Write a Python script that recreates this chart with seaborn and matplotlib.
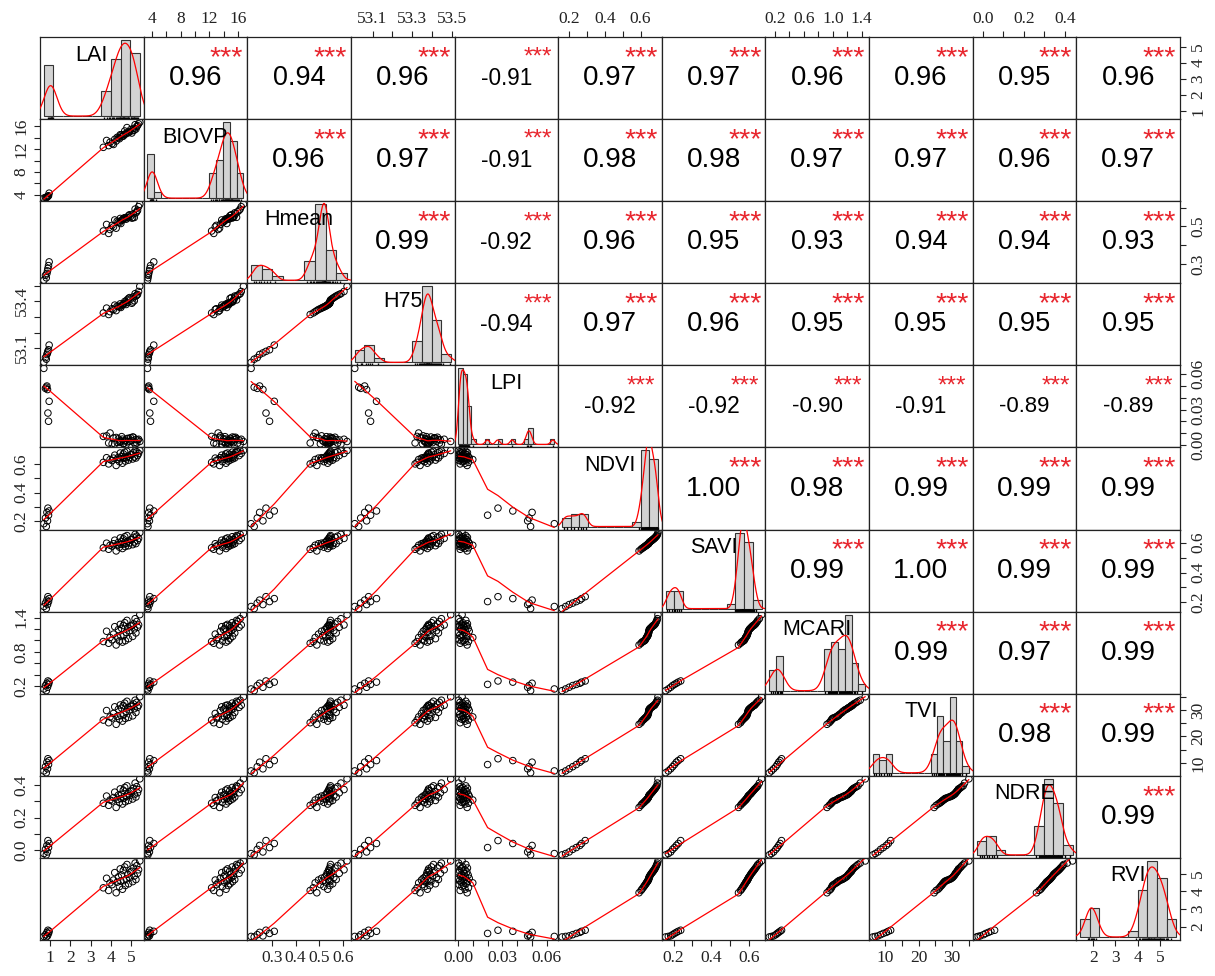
import numpy as np
import pandas as pd
import matplotlib
matplotlib.use("Agg")
import matplotlib.pyplot as plt
import seaborn as sns

sns.set_theme(style="white")
plt.rcParams['font.family'] = ['Liberation Sans', 'DejaVu Sans']

variables = ["LAI", "BIOVP", "Hmean", "H75", "LPI", "NDVI", "SAVI", "MCARI", "TVI", "NDRE", "RVI"]

# ---- observations (8 sparse plots followed by 35 dense plots) ----
LAI = [0.82, 0.70, 0.88, 0.78, 0.93, 0.85, 0.96, 0.90,
       4.25, 3.88, 4.56, 3.62, 4.41, 4.70, 4.05, 4.86, 3.95, 4.30, 5.06, 4.48, 4.63, 4.12, 5.22, 4.74,
       3.78, 4.91, 4.36, 5.14, 4.52, 4.82, 5.30, 4.18, 4.96, 5.02, 4.60, 5.35, 4.45, 5.10, 4.67, 5.26,
       4.78, 5.18, 5.41]
BIOVP = [3.50, 3.43, 3.70, 3.55, 3.85, 3.60, 4.30, 3.75,
         13.4, 12.6, 14.3, 12.3, 13.8, 14.6, 12.95, 14.85, 13.2, 14.05, 15.2, 14.4, 14.55, 12.8, 15.5, 14.7,
         13.5, 15.05, 13.95, 15.3, 14.15, 14.95, 16.1, 13.7, 15.4, 14.8, 14.25, 16.4, 14.5, 15.6, 15.15, 15.9,
         15.75, 16.25, 16.7]
Hmean = [0.225, 0.212, 0.262, 0.238, 0.290, 0.248, 0.310, 0.275,
         0.490, 0.462, 0.536, 0.475, 0.520, 0.545, 0.505, 0.557, 0.483, 0.528, 0.546, 0.515, 0.543, 0.497,
         0.572, 0.538, 0.510, 0.562, 0.524, 0.547, 0.531, 0.545, 0.585, 0.534, 0.553, 0.544, 0.540, 0.605,
         0.542, 0.567, 0.546, 0.578, 0.548, 0.592, 0.618]
H75 = [53.03, 53.01, 53.07, 53.04, 53.09, 53.06, 53.12, 53.08,
       53.340, 53.315, 53.377, 53.325, 53.363, 53.389, 53.352, 53.418, 53.333, 53.369, 53.395, 53.360,
       53.385, 53.347, 53.433, 53.379, 53.356, 53.423, 53.366, 53.403, 53.372, 53.392, 53.443, 53.375,
       53.413, 53.387, 53.381, 53.462, 53.383, 53.428, 53.398, 53.438, 53.408, 53.448, 53.495]
LPI = [0.049, 0.065, 0.047, 0.048, 0.020, 0.050, 0.037, 0.027,
       0.0062, 0.0015, 0.0048, 0.0071, 0.0027, 0.0039, 0.0008, 0.0055, 0.0100, 0.0021, 0.0066, 0.0034,
       0.0012, 0.0058, 0.0044, 0.0003, 0.0076, 0.0030, 0.0051, 0.0018, 0.0069, 0.0025, 0.0041, 0.0006,
       0.0060, 0.0036, 0.0010, 0.0047, 0.0022, 0.0064, 0.0032, 0.0014, 0.0053, 0.0005, 0.0028]
NDVI = [0.16, 0.18, 0.20, 0.22, 0.24, 0.26, 0.27, 0.29,
        0.592, 0.603, 0.608, 0.614, 0.619, 0.623, 0.627, 0.630, 0.634, 0.636, 0.638, 0.640, 0.642, 0.644,
        0.645, 0.646, 0.647, 0.648, 0.649, 0.652, 0.655, 0.658, 0.662, 0.665, 0.668, 0.671, 0.674, 0.677,
        0.680, 0.683, 0.686, 0.689, 0.692, 0.695, 0.698]
SAVI = [0.158, 0.172, 0.185, 0.195, 0.205, 0.215, 0.225, 0.238,
        0.545, 0.556, 0.561, 0.566, 0.570, 0.574, 0.577, 0.580, 0.583, 0.585, 0.587, 0.589, 0.591, 0.593,
        0.594, 0.596, 0.597, 0.599, 0.602, 0.605, 0.608, 0.611, 0.614, 0.617, 0.620, 0.623, 0.626, 0.629,
        0.632, 0.636, 0.640, 0.644, 0.648, 0.656, 0.668]
MCARI = [0.12, 0.15, 0.18, 0.21, 0.23, 0.25, 0.27, 0.29,
         0.92, 0.95, 0.97, 0.98, 0.99, 0.995, 1.01, 1.03, 1.05, 1.06, 1.07, 1.08, 1.09, 1.11, 1.13, 1.14,
         1.16, 1.17, 1.19, 1.20, 1.21, 1.22, 1.23, 1.24, 1.25, 1.26, 1.26, 1.27, 1.28, 1.29, 1.31, 1.33,
         1.35, 1.38, 1.45]
TVI = [6.3, 7.0, 7.8, 8.6, 9.4, 10.3, 10.9, 11.6,
       24.6, 25.2, 25.8, 26.2, 26.5, 26.8, 27.0, 27.2, 27.4, 27.6, 27.8, 27.9, 28.3, 28.7, 29.1, 29.5,
       29.8, 30.1, 30.3, 30.5, 30.7, 30.9, 31.0, 31.2, 31.4, 31.5, 31.7, 31.8, 31.9, 32.3, 32.6, 32.9,
       33.3, 33.7, 35.0]
NDRE = [-0.030, -0.022, -0.012, 0.004, 0.015, 0.028, 0.040, 0.058,
        0.262, 0.275, 0.283, 0.288, 0.293, 0.297, 0.302, 0.305, 0.308, 0.311, 0.314, 0.317, 0.320, 0.323,
        0.326, 0.329, 0.332, 0.335, 0.338, 0.341, 0.344, 0.347, 0.352, 0.356, 0.360, 0.364, 0.368, 0.372,
        0.376, 0.380, 0.385, 0.390, 0.395, 0.412, 0.438]
RVI = [1.42, 1.45, 1.48, 1.55, 1.62, 1.68, 1.74, 1.80,
       3.92, 4.05, 4.12, 4.20, 4.27, 4.33, 4.38, 4.43, 4.48, 4.52, 4.55, 4.58, 4.61, 4.64, 4.67, 4.70,
       4.74, 4.78, 4.82, 4.87, 4.92, 4.97, 5.02, 5.06, 5.10, 5.14, 5.18, 5.22, 5.27, 5.32, 5.38, 5.45,
       5.52, 5.60, 5.72]

# correlation coefficients shown in the upper panels (row i, columns i+1..)
cor_rows = [
    [0.96, 0.94, 0.96, -0.91, 0.97, 0.97, 0.96, 0.96, 0.95, 0.96],
    [0.96, 0.97, -0.91, 0.98, 0.98, 0.97, 0.97, 0.96, 0.97],
    [0.99, -0.92, 0.96, 0.95, 0.93, 0.94, 0.94, 0.93],
    [-0.94, 0.97, 0.96, 0.95, 0.95, 0.95, 0.95],
    [-0.92, -0.92, -0.90, -0.91, -0.89, -0.89],
    [1.00, 0.98, 0.99, 0.99, 0.99],
    [0.99, 1.00, 0.99, 0.99],
    [0.99, 0.97, 0.99],
    [0.98, 0.99],
    [0.99],
]
signif = "***"

# axis ticks and the labels R kept (horizontal axis / vertical axis)
tick_pos = {
    "LAI": [1, 2, 3, 4, 5], "BIOVP": [4, 6, 8, 10, 12, 14, 16], "Hmean": [0.3, 0.4, 0.5, 0.6],
    "H75": [53.1, 53.2, 53.3, 53.4, 53.5], "LPI": [0.0, 0.01, 0.02, 0.03, 0.04, 0.05, 0.06],
    "NDVI": [0.2, 0.3, 0.4, 0.5, 0.6], "SAVI": [0.2, 0.3, 0.4, 0.5, 0.6],
    "MCARI": [0.2, 0.4, 0.6, 0.8, 1.0, 1.2, 1.4], "TVI": [10, 15, 20, 25, 30, 35],
    "NDRE": [0.0, 0.1, 0.2, 0.3, 0.4], "RVI": [2, 3, 4, 5],
}
h_labels = {
    "LAI": ["1", "2", "3", "4", "5"], "BIOVP": ["4", "", "8", "", "12", "", "16"],
    "Hmean": ["0.3", "0.4", "0.5", "0.6"], "H75": ["53.1", "", "53.3", "", "53.5"],
    "LPI": ["0.00", "", "", "0.03", "", "", "0.06"], "NDVI": ["0.2", "", "0.4", "", "0.6"],
    "SAVI": ["0.2", "", "0.4", "", "0.6"], "MCARI": ["0.2", "", "0.6", "", "1.0", "", "1.4"],
    "TVI": ["10", "", "20", "", "30", ""], "NDRE": ["0.0", "", "0.2", "", "0.4"],
    "RVI": ["2", "3", "4", "5"],
}
v_labels = {
    "LAI": ["1", "2", "3", "4", "5"], "BIOVP": ["4", "", "8", "", "12", "", "16"],
    "Hmean": ["0.3", "", "0.5", ""], "H75": ["53.1", "", "", "53.4", ""],
    "LPI": ["0.00", "", "", "0.03", "", "", "0.06"], "NDVI": ["0.2", "", "0.4", "", "0.6"],
    "SAVI": ["0.2", "", "0.4", "", "0.6"], "MCARI": ["0.2", "", "", "0.8", "", "", "1.4"],
    "TVI": ["10", "", "20", "", "30", ""], "NDRE": ["0.0", "", "0.2", "", "0.4"],
    "RVI": ["2", "3", "4", "5"],
}
# histogram breaks: (start, stop, width)
hist_breaks = {
    "LAI": (0.5, 5.5, 0.5), "BIOVP": (3, 17, 1), "Hmean": (0.2, 0.65, 0.05), "H75": (53.0, 53.5, 0.05),
    "LPI": (0.0, 0.066, 0.003), "NDVI": (0.15, 0.70, 0.05), "SAVI": (0.15, 0.70, 0.05),
    "MCARI": (0.1, 1.5, 0.1), "TVI": (6, 36, 2), "NDRE": (-0.05, 0.45, 0.05), "RVI": (1.0, 6.0, 0.5),
}

df = pd.DataFrame({"LAI": LAI, "BIOVP": BIOVP, "Hmean": Hmean, "H75": H75, "LPI": LPI, "NDVI": NDVI,
                   "SAVI": SAVI, "MCARI": MCARI, "TVI": TVI, "NDRE": NDRE, "RVI": RVI})


def lowess(x, y, f=2 / 3, iters=3):
    """Port of R's lowess (clowess) without the delta shortcut."""
    x = np.asarray(x, float)
    y = np.asarray(y, float)
    o = np.argsort(x, kind="mergesort")
    x, y = x[o], y[o]
    n = len(x)
    ns = max(2, min(n, int(f * n + 1e-7)))
    rw = np.ones(n)
    fit = np.zeros(n)
    rng = x[-1] - x[0]
    for it in range(iters + 1):
        for k in range(n):
            d = np.abs(x - x[k])
            h = np.sort(d)[ns - 1]
            w = np.zeros(n)
            inside = d <= 0.999 * h
            if h > 0:
                u = np.clip(d / h, 0, 1)
                w = np.where(inside, np.where(d <= 0.001 * h, 1.0, (1 - u ** 3) ** 3), 0.0)
            else:
                w = np.where(d == 0, 1.0, 0.0)
            if it > 0:
                w = w * rw
            a = w.sum()
            if a <= 0:
                fit[k] = y[k]
                continue
            w = w / a
            if h > 0:
                xm = (w * x).sum()
                c = (w * (x - xm) ** 2).sum()
                if np.sqrt(c) > 0.001 * rng:
                    b = (x[k] - xm) / c
                    w = w * (b * (x - xm) + 1.0)
            fit[k] = (w * y).sum()
        if it == iters:
            break
        res = y - fit
        cmad = 6 * np.median(np.abs(res))
        if cmad < 1e-7 * np.mean(np.abs(res)):
            break
        r = np.abs(res)
        rw = np.where(r <= 0.001 * cmad, 1.0, np.where(r <= 0.999 * cmad, (1 - (r / cmad) ** 2) ** 2, 0.0))
    return x, fit


def padded(v):
    lo, hi = float(np.min(v)), float(np.max(v))
    d = hi - lo
    return lo - 0.04 * d, hi + 0.04 * d


EM = {"0": 0.556, "1": 0.556, "2": 0.556, "3": 0.556, "4": 0.556, "5": 0.556, "6": 0.556,
      "7": 0.556, "8": 0.556, "9": 0.556, ".": 0.278, "-": 0.333}
K_PX = 55.2


def width_em(s):
    return sum(EM.get(c, 0.556) for c in s)


fig = plt.figure(figsize=(12.15, 9.76), dpi=100)
fig.patch.set_facecolor("white")
L, R, T, B = 40 / 1215, 1180 / 1215, 1 - 37 / 976, 1 - 940 / 976
n = len(variables)
cw = (R - L) / n
ch = (T - B) / n
SERIF = "Liberation Serif"

for i in range(n):
    for j in range(n):
        xv, yv = variables[j], variables[i]
        ax = fig.add_axes([L + j * cw, T - (i + 1) * ch, cw, ch])
        ax.set_facecolor("white")
        ax.set_xlim(*padded(df[xv]))
        ax.set_ylim(*padded(df[yv]))
        for sp in ax.spines.values():
            sp.set_visible(True)
            sp.set_color("#222222")
            sp.set_linewidth(0.9)
        ax.tick_params(which="both", bottom=False, top=False, left=False, right=False,
                       labelbottom=False, labeltop=False, labelleft=False, labelright=False,
                       direction="out", length=4.5, width=0.8, colors="#222222",
                       labelsize=12.5, pad=3)
        ax.set_xlabel("")
        ax.set_ylabel("")

        if i > j:
            sns.scatterplot(x=df[xv], y=df[yv], ax=ax, marker="o", s=22, linewidth=0.7,
                            color="black", legend=False)
            pc = ax.collections[-1]
            pc.set_facecolor("none")
            pc.set_edgecolor("black")
            lx, ly = lowess(df[xv].values, df[yv].values)
            sns.lineplot(x=lx, y=ly, ax=ax, color="red", lw=0.9, sort=False, estimator=None)
            ax.set_xlim(*padded(df[xv]))
            ax.set_ylim(*padded(df[yv]))
        elif i < j:
            r = cor_rows[i][j - i - 1]
            txt = f"{r:.2f}"
            em_cex = K_PX / width_em(txt)
            val_pt = em_cex * (abs(r) + 0.3) / 1.3 * 0.72
            star_pt = em_cex * 0.72
            ax.text(0.5, 0.5, txt, transform=ax.transAxes, ha="center", va="center",
                    fontsize=val_pt, color="black")
            ax.text(0.8, 0.745, signif, transform=ax.transAxes, ha="center", va="center",
                    fontsize=star_pt, color="#E8262E")
        else:
            data = df[xv].values
            b0, b1, bw = hist_breaks[xv]
            nb = int(round((b1 - b0) / bw))
            edges = np.round(b0 + bw * np.arange(nb + 1), 6)
            hax = ax.inset_axes([0, 0, 1, 1])
            hax.patch.set_alpha(0)
            sns.histplot(x=data, bins=edges, stat="density", ax=hax, color="#D3D3D3",
                         edgecolor="#333333", linewidth=0.8, alpha=1)
            sd = np.std(data, ddof=1)
            q75, q25 = np.percentile(data, [75, 25])
            nrd0 = 0.9 * min(sd, (q75 - q25) / 1.34) * len(data) ** (-0.2)
            sns.kdeplot(x=data, ax=hax, bw_method=nrd0 / sd, cut=3, color="red", lw=0.9)
            sns.rugplot(x=data, ax=hax, height=0.03, color="black", lw=0.8)
            dens, _ = np.histogram(data, bins=edges, density=True)
            m = dens.max()
            span = edges[-1] - edges[0]
            hax.set_xlim(edges[0] - 0.04 * span, edges[-1] + 0.04 * span)
            hax.set_ylim(-0.04 * m, 1.04 * m)
            hax.set_axis_off()
            hax.text(0.5, 0.78, xv, transform=hax.transAxes, ha="center", va="center",
                     fontsize=15.5, color="black", zorder=10)

        # outer axes (R pairs alternation)
        if i == 0 and j % 2 == 1:
            ax.set_xticks(tick_pos[xv])
            ax.set_xticklabels(h_labels[xv])
            ax.tick_params(axis="x", top=True, labeltop=True)
        if i == n - 1 and j % 2 == 0:
            ax.set_xticks(tick_pos[xv])
            ax.set_xticklabels(h_labels[xv])
            ax.tick_params(axis="x", bottom=True, labelbottom=True)
        if j == 0 and i % 2 == 1:
            ax.set_yticks(tick_pos[yv])
            ax.set_yticklabels(v_labels[yv])
            ax.tick_params(axis="y", left=True, labelleft=True, labelrotation=90)
        if j == n - 1 and i % 2 == 0:
            ax.set_yticks(tick_pos[yv])
            ax.set_yticklabels(v_labels[yv])
            ax.tick_params(axis="y", right=True, labelright=True, labelrotation=90)
        for tl in ax.get_xticklabels() + ax.get_yticklabels():
            tl.set_fontfamily(SERIF)
        for tl in ax.get_yticklabels():
            tl.set_va("center")
        ax.set_xlim(*padded(df[xv]))
        ax.set_ylim(*padded(df[yv]))

fig.savefig("out.png", dpi=100, facecolor="white")
